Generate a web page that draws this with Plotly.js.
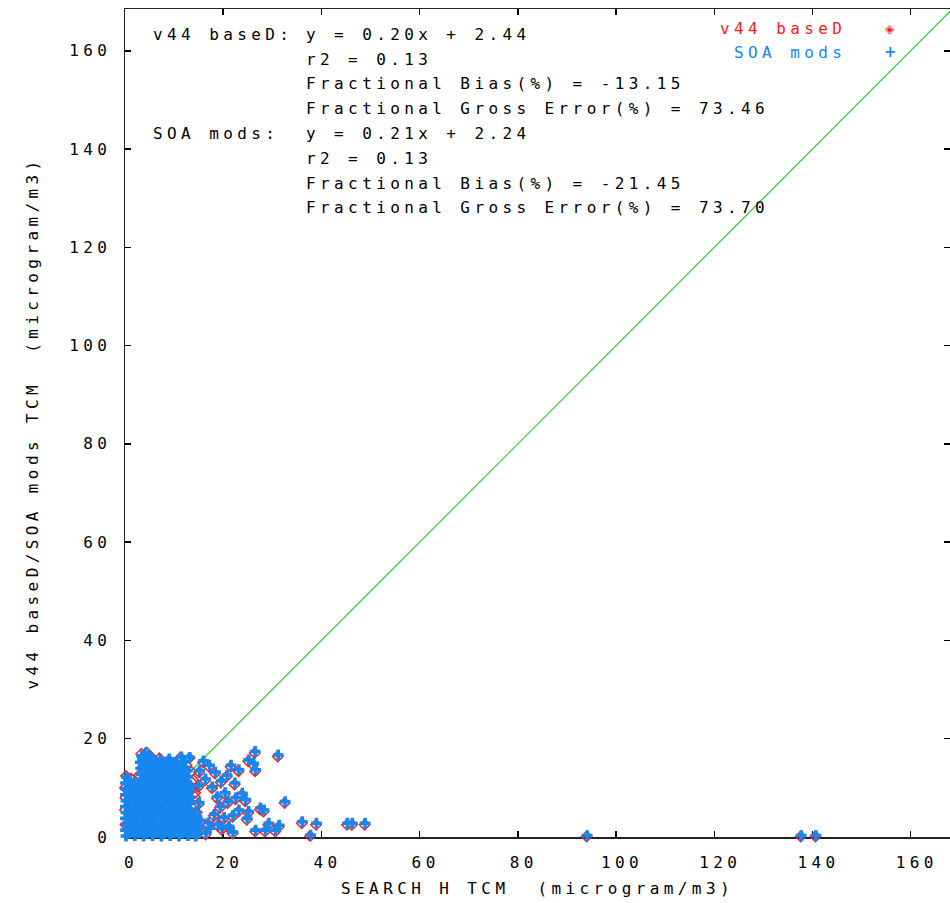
<!DOCTYPE html>
<html>
<head>
<meta charset="utf-8">
<script src="https://cdn.plot.ly/plotly-3.0.1.min.js"></script>
<style>
  html, body { margin: 0; padding: 0; background: #fff; }
  svg text { letter-spacing: 4.4px; }
</style>
</head>
<body>
<div id="chart" style="width:950px;height:903px;"></div>
<script>
// ---------------- DATA ----------------
const seriesNames = ["v44 baseD", "SOA mods"];
const xTitle = "SEARCH H TCM  (microgram/m3)";
const yTitle = "v44 baseD/SOA mods TCM  (microgram/m3)";
const tickVals = [0, 20, 40, 60, 80, 100, 120, 140, 160];
const oneToOneX = [0, 170];
const oneToOneY = [0, 170];

const statLabels = ["v44 baseD:", "SOA mods:"];
const statLinesBase = ["y = 0.20x + 2.44", "r2 = 0.13", "Fractional Bias(%) = -13.15", "Fractional Gross Error(%) = 73.46"];
const statLinesSoa  = ["y = 0.21x + 2.24", "r2 = 0.13", "Fractional Bias(%) = -21.45", "Fractional Gross Error(%) = 73.70"];

// SOA mods (blue) – dense cluster read row by row, then fringe and outliers
const soaX = [
  0.2,2.0,3.8,5.6,7.4,9.2,11.0,12.8,14.4,
  0.9,2.7,4.5,6.3,8.1,9.9,11.7,13.5,15.0,
  0.1,1.9,3.7,5.5,7.3,9.1,10.9,12.7,14.5,
  0.8,2.6,4.4,6.2,8.0,9.8,11.6,13.4,15.1,
  0.2,2.0,3.8,5.6,7.4,9.2,11.0,12.8,14.5,
  0.9,2.7,4.5,6.3,8.1,9.9,11.7,13.5,
  0.1,1.9,3.7,5.5,7.3,9.1,10.9,12.7,14.4,
  0.8,2.6,4.4,6.2,8.0,9.8,11.6,13.4,
  0.2,2.0,3.8,5.6,7.4,9.2,11.0,12.8,14.6,
  0.9,2.7,4.5,6.3,8.1,9.9,11.7,13.3,
  0.1,1.9,3.7,5.5,7.3,9.1,10.9,12.6,
  0.8,2.6,4.4,6.2,8.0,9.8,11.6,13.2,
  0.2,2.0,3.8,5.6,7.4,9.2,11.0,12.7,
  0.9,2.7,4.5,6.3,8.1,9.9,11.7,13.4,
  0.1,1.9,3.7,5.5,7.3,9.1,10.9,12.6,
  0.8,2.6,4.4,6.2,8.0,9.8,11.6,13.1,
  0.2,2.0,3.8,5.6,7.4,9.2,11.0,12.7,
  0.9,2.7,4.5,6.3,8.1,9.9,11.7,13.3,
  0.1,1.9,3.7,5.5,7.3,9.1,10.9,12.6,
  0.8,3.4,5.0,6.6,8.4,10.2,12.0,
  0.3,3.9,5.7,7.5,9.3,11.1,12.8,
  3.3,5.1,6.9,8.7,10.5,12.2,
  3.8,5.6,7.4,9.2,11.0,12.7,
  3.2,5.0,6.8,8.6,10.4,12.2,
  3.7,5.5,7.3,9.1,10.9,
  3.1,4.9,6.7,8.5,10.3,12.3,
  3.6,5.4,7.2,9.0,
  3.4,5.0,11.5,13.2,
  4.2,
  15.2,16.0,17.2,18.4,16.4,15.0,17.8,19.6,20.8,21.6,22.4,20.4,18.8,15.1,19.4,21.0,22.6,18.2,20.2,22.0,15.4,17.0,19.0,21.2,16.5,17.3,19.8,22.0,
  26.5,31.2,25.2,26.2,26.6,23.2,23.9,24.6,32.6,27.6,28.3,23.2,25.2,24.9,29.3,31.4,26.6,28.6,30.7,36.1,39.0,37.8,45.3,46.3,48.9,94.1,137.7,140.7
];
const soaY = [
  0.2,0.3,0.2,0.3,0.2,0.3,0.2,0.3,0.2,
  0.8,0.9,0.8,0.9,0.8,0.9,0.8,0.9,0.8,
  1.4,1.5,1.4,1.5,1.4,1.5,1.4,1.5,1.4,
  2.0,2.1,2.0,2.1,2.0,2.1,2.0,2.1,2.0,
  2.6,2.7,2.6,2.7,2.6,2.7,2.6,2.7,2.6,
  3.2,3.3,3.2,3.3,3.2,3.3,3.2,3.3,
  3.8,3.9,3.8,3.9,3.8,3.9,3.8,3.9,3.8,
  4.4,4.5,4.4,4.5,4.4,4.5,4.4,4.5,
  5.0,5.1,5.0,5.1,5.0,5.1,5.0,5.1,5.0,
  5.6,5.7,5.6,5.7,5.6,5.7,5.6,5.7,
  6.2,6.3,6.2,6.3,6.2,6.3,6.2,6.3,
  6.8,6.9,6.8,6.9,6.8,6.9,6.8,6.9,
  7.4,7.5,7.4,7.5,7.4,7.5,7.4,7.5,
  8.0,8.1,8.0,8.1,8.0,8.1,8.0,8.1,
  8.6,8.7,8.6,8.7,8.6,8.7,8.6,8.7,
  9.2,9.3,9.2,9.3,9.2,9.3,9.2,9.3,
  9.8,9.9,9.8,9.9,9.8,9.9,9.8,9.9,
  10.4,10.5,10.4,10.5,10.4,10.5,10.4,10.5,
  11.0,11.1,11.0,11.1,11.0,11.1,11.0,11.1,
  11.6,11.7,11.6,11.7,11.6,11.7,11.6,
  12.2,12.3,12.2,12.3,12.2,12.3,12.2,
  12.8,12.9,12.8,12.9,12.8,12.9,
  13.4,13.5,13.4,13.5,13.4,13.5,
  14.0,14.1,14.0,14.1,14.0,14.1,
  14.6,14.7,14.6,14.7,14.6,
  15.2,15.3,15.2,15.3,15.2,15.3,
  15.8,15.9,15.8,15.9,
  16.5,16.6,16.3,16.2,
  17.1,
  13.5,15.5,14.6,13.2,11.8,10.5,10.2,11.4,12.6,14.6,11.0,9.0,8.2,7.0,6.2,7.2,8.0,4.6,4.0,4.4,3.4,2.9,2.6,2.2,0.8,1.8,1.8,1.0,
  17.4,16.7,15.7,15.0,13.7,13.7,8.9,7.6,7.2,5.9,5.5,5.5,5.2,3.8,2.8,2.4,1.4,1.4,1.4,3.1,2.8,0.4,2.8,2.8,2.8,0.3,0.3,0.3
];

// v44 baseD (red) – cluster edges, fringe and outliers
const baseX = [
  0.2,1.2,2.4,2.9,3.3,4.4,5.4,7.0,9.0,11.3,13.1,12.5,13.5,13.9,13.8,14.2,13.9,14.6,15.0,0.0,0.1,0.0,0.1,
  9.2,10.6,11.6,13.6,14.3,
  15.1,15.9,17.1,18.3,16.3,14.9,17.7,19.5,20.7,21.5,22.3,20.3,18.7,15.0,19.3,20.9,22.5,18.1,20.1,21.9,15.3,16.9,18.9,21.1,16.4,19.7,21.9,
  26.4,31.1,25.1,26.1,26.5,23.1,23.8,24.5,32.5,27.5,28.2,23.1,25.1,24.8,29.2,31.3,26.5,28.5,30.6,36.0,38.9,37.7,45.2,46.2,48.8,94.0,137.6,140.6
];
const baseY = [
  12.4,11.9,11.0,12.6,16.9,17.2,16.2,16.0,15.6,16.2,16.1,14.6,13.3,11.6,9.9,8.2,6.5,5.0,1.8,10.0,8.0,5.5,2.5,
  8.1,10.2,11.6,11.2,9.0,
  13.2,15.2,14.3,12.9,11.5,10.2,9.9,11.1,12.3,14.3,10.7,8.7,7.9,6.7,5.9,6.9,7.7,4.3,3.7,4.1,3.1,2.6,2.3,1.9,0.5,1.5,0.7,
  17.1,16.4,15.4,14.7,13.4,13.4,8.6,7.3,6.9,5.6,5.2,5.2,4.9,3.5,2.5,2.1,1.1,1.1,1.1,2.8,2.5,0.2,2.5,2.5,2.5,0.1,0.1,0.1
];

// ---------------- STYLE / LAYOUT ----------------
const FONT = "DejaVu Sans Mono, Liberation Mono, monospace";
const FS = 16;
const RED = "#ff1a1a";
const BLUE = "#1687f0";
const L = 125, T = 9, W = 825, H = 828;
const pxX = p => (p - L) / W;
const pxY = p => (T + H - p) / H;

const traces = [
  { x: oneToOneX, y: oneToOneY, mode: "lines", line: { color: "#2ecc2e", width: 1.2 }, showlegend: false, hoverinfo: "skip" },
  { x: baseX, y: baseY, mode: "markers", name: seriesNames[0], cliponaxis: false,
    marker: { symbol: "diamond-open", size: 8, color: RED, line: { color: RED, width: 1.5 } } },
  { x: soaX, y: soaY, mode: "markers", name: seriesNames[1], cliponaxis: false,
    marker: { symbol: "cross", size: 9, color: BLUE, line: { width: 0 } } }
];

const annotations = [];
const lineYs = [34, 59, 84, 109, 133, 158, 183, 208];
annotations.push({ text: statLabels[0], x: pxX(151), y: pxY(lineYs[0]) });
annotations.push({ text: statLabels[1], x: pxX(151), y: pxY(lineYs[4]) });
statLinesBase.concat(statLinesSoa).forEach((t, i) => {
  annotations.push({ text: t, x: pxX(304), y: pxY(lineYs[i]) });
});
annotations.forEach(a => Object.assign(a, { xref: "paper", yref: "paper", xanchor: "left", yanchor: "middle", showarrow: false, font: { family: FONT, size: FS, color: "#000" } }));
// legend (text right-aligned, symbol on the right)
annotations.push({ text: seriesNames[0], xref: "paper", yref: "paper", x: pxX(848), y: pxY(29), xanchor: "right", yanchor: "middle", showarrow: false, font: { family: FONT, size: FS, color: RED } });
annotations.push({ text: seriesNames[1], xref: "paper", yref: "paper", x: pxX(848), y: pxY(52), xanchor: "right", yanchor: "middle", showarrow: false, font: { family: FONT, size: FS, color: BLUE } });
annotations.push({ text: "◈", xref: "paper", yref: "paper", x: pxX(892), y: pxY(29), xanchor: "center", yanchor: "middle", showarrow: false, font: { family: "DejaVu Sans", size: 12, color: RED } });
annotations.push({ text: "<b>+</b>", xref: "paper", yref: "paper", x: pxX(892), y: pxY(52), xanchor: "center", yanchor: "middle", showarrow: false, font: { family: "DejaVu Sans", size: 15, color: BLUE } });

const axisCommon = {
  tickmode: "array", tickvals: tickVals, ticktext: tickVals.map(String),
  ticks: "inside", ticklen: 6, tickwidth: 1.5, tickcolor: "#000",
  showline: true, linecolor: "#222", linewidth: 1.5, mirror: "ticks",
  showgrid: false, zeroline: false, layer: "below traces",
  tickfont: { family: FONT, size: FS, color: "#000" },
  fixedrange: true
};

const layout = {
  width: 950, height: 903,
  margin: { l: L, r: 0, t: T, b: 903 - T - H, pad: 0 },
  paper_bgcolor: "#fff", plot_bgcolor: "#fff",
  showlegend: false,
  font: { family: FONT, size: FS, color: "#000" },
  xaxis: Object.assign({}, axisCommon, {
    range: [0, 168], ticklabelstandoff: 10, ticklabelshift: 6,
    title: { text: xTitle, font: { family: FONT, size: FS, color: "#000" }, standoff: 12 }
  }),
  yaxis: Object.assign({}, axisCommon, {
    range: [0, 168.5], ticklabelstandoff: 9,
    title: { text: yTitle, font: { family: FONT, size: FS, color: "#000" }, standoff: 26 }
  }),
  annotations: annotations
};

Plotly.newPlot("chart", traces, layout, { staticPlot: true, displayModeBar: false });
</script>
</body>
</html>
